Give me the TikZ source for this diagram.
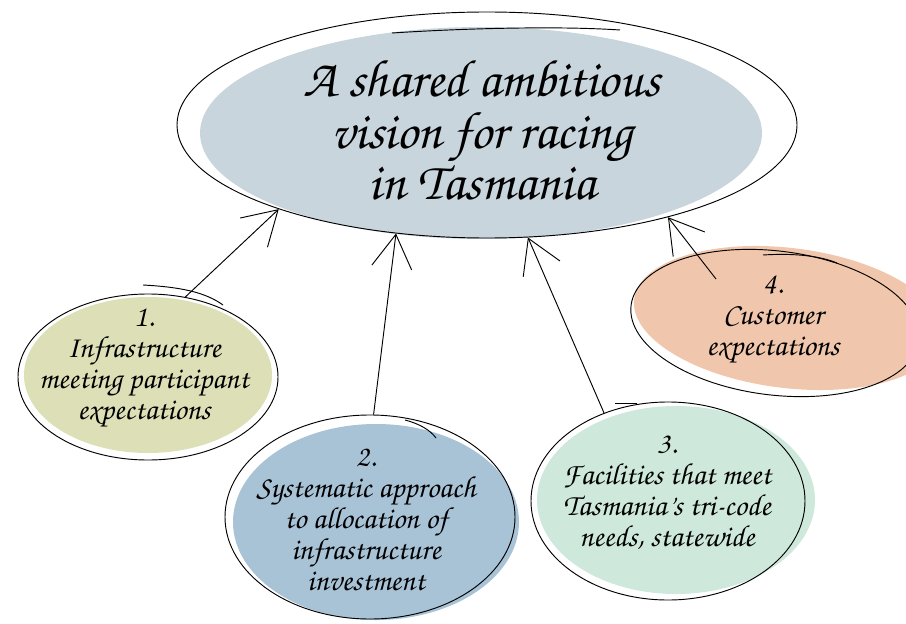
\documentclass[tikz,border=0pt]{standalone}
\usetikzlibrary{shapes.geometric,arrows.meta}

\definecolor{visionfill}{RGB}{200,213,220}
\definecolor{olivefill}{RGB}{221,224,183}
\definecolor{bluefill}{RGB}{168,194,214}
\definecolor{mintfill}{RGB}{206,232,219}
\definecolor{peachfill}{RGB}{240,198,172}
\newcommand{\handfont}{\fontencoding{T1}\fontfamily{pzc}\fontseries{m}\fontshape{it}\selectfont}

\begin{document}
\begin{tikzpicture}[x=0.03cm, y=-0.03cm, line width=0.8pt,
    >={Straight Barb[length=10mm, width=12mm]},
    bubble/.style={ellipse, draw, inner sep=0pt},
    bubbletext/.style={align=center, font=\handfont\fontsize{26}{26.5}\selectfont},
    titletext/.style={align=center, font=\handfont\fontsize{45}{44}\selectfont}]
    \useasboundingbox (0,0) rectangle (906,624);

    % Soft colour washes behind the outlines
    \fill[visionfill] (481,133) ellipse [x radius=281, y radius=106];
    \fill[olivefill] (148,375) ellipse [x radius=124, y radius=78];
    \fill[bluefill] (376,522) ellipse [x radius=143, y radius=98];
    \fill[mintfill] (676,500) ellipse [x radius=139, y radius=94];
    \fill[peachfill, rotate around={-7:(788,318)}] (788,318) ellipse [x radius=155, y radius=70];

    % Outlines
    \node[bubble, minimum width=18.6cm, minimum height=6.78cm] (vision) at (487,125) {};
    \node[bubble, minimum width=7.8cm, minimum height=4.98cm] (c1) at (148,377) {};
    \node[bubble, minimum width=8.7cm, minimum height=6.12cm] (c2) at (370,517) {};
    \node[bubble, minimum width=8.22cm, minimum height=5.94cm] (c3) at (668,501) {};
    \node[bubble, minimum width=8.7cm, minimum height=4.32cm, rotate=-7] (c4) at (775,323) {};
    \coordinate (c4in) at (716,279);

    % Sketchy extra strokes
    \draw (392,33) .. controls (470,28) and (560,26) .. (620,30);
    \draw (143,285) .. controls (180,287) and (205,292) .. (223,305);
    \draw (405,420) .. controls (420,424) and (430,430) .. (436,438);
    \draw (615,403) -- (637,403);
    \draw (763,255) .. controls (795,253) and (820,256) .. (837,263);

    % Texts
    \node[titletext] (title) at (482,130) {A shared ambitious\\vision for racing\\in Tasmania};
    \node[bubbletext] (t1) at (144,368) {1.\\Infrastructure\\meeting participant\\expectations};
    \node[bubbletext] (t2) at (366,519) {2.\\Systematic approach\\to allocation of\\infrastructure\\investment};
    \node[bubbletext] (t3) at (667,493) {3.\\Facilities that meet\\Tasmania's tri-code\\needs, statewide};
    \node[bubbletext] (t4) at (773,320) {4.\\Customer\\expectations};

    % Arrows into the shared vision
    \draw[->] (c1.65) -- (vision.-158);
    \draw[->] (c2.88) -- (vision.-130);
    \draw[->] (c3.126) -- (vision.-70);
    \draw[->] (c4in) -- (vision.-27);
  \end{tikzpicture}
\end{document}
